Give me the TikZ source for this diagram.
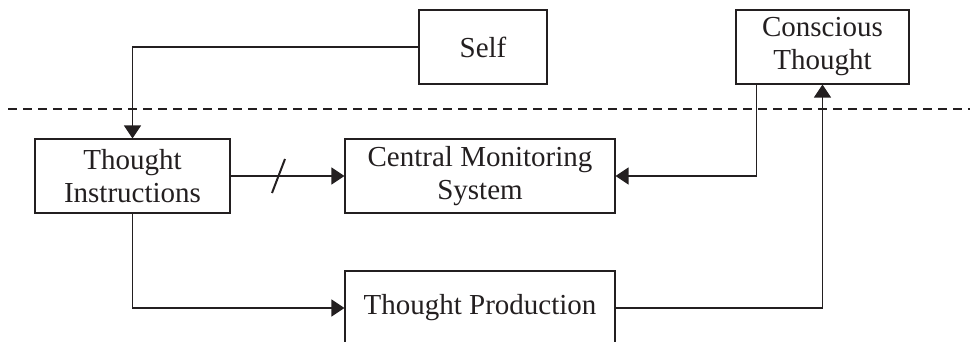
\documentclass[tikz,border=0pt]{standalone}
\usepackage{fontspec}
\setmainfont{Liberation Serif}
\usetikzlibrary{arrows.meta}
\definecolor{ink}{HTML}{231F20}
\begin{document}
\begin{tikzpicture}[x=0.5pt,y=-0.5pt,
  box/.style={draw=ink, line width=0.55pt, inner sep=0pt, align=center,
    minimum height=37pt, text=ink, font=\fontsize{14.5}{16.5}\selectfont},
  link/.style={draw=ink, line width=0.65pt,
    -{Triangle[length=6.5pt,width=8.5pt]}},
  divider/.style={draw=ink, line width=0.6pt, dash pattern=on 4.5pt off 3pt}]
\useasboundingbox (0,0) rectangle (970,342);
\clip (0,0) rectangle (970,342);

% boxes
\node[box, minimum width=64pt]   (self) at (483,47)   {Self};
\node[box, minimum width=86.5pt] (ct)   at (822.5,47) {Conscious\\Thought};
\node[box, minimum width=97.5pt] (ti)   at (132.5,176) {Thought\\Instructions};
\node[box, minimum width=135pt]  (cms)  at (480,176)  {Central Monitoring\\System};
\node[box, minimum width=135pt]  (tp)   at (480,308)  {Thought Production};

% boundary of awareness
\draw[divider] (8,109) -- (970,109);

% connectors
\draw[link] (self.west) -| (ti.north);
\draw[link] (ti.east) -- (cms.west);
\draw[link] ([xshift=-33pt]ct.south) |- (cms.east);
\draw[link] (ti.south) |- (tp.west);
\draw[link] (tp.east) -| (ct.south);

% blocked path mark
\draw[draw=ink, line width=1pt] (272,193) -- (285,159);
\end{tikzpicture}
\end{document}
